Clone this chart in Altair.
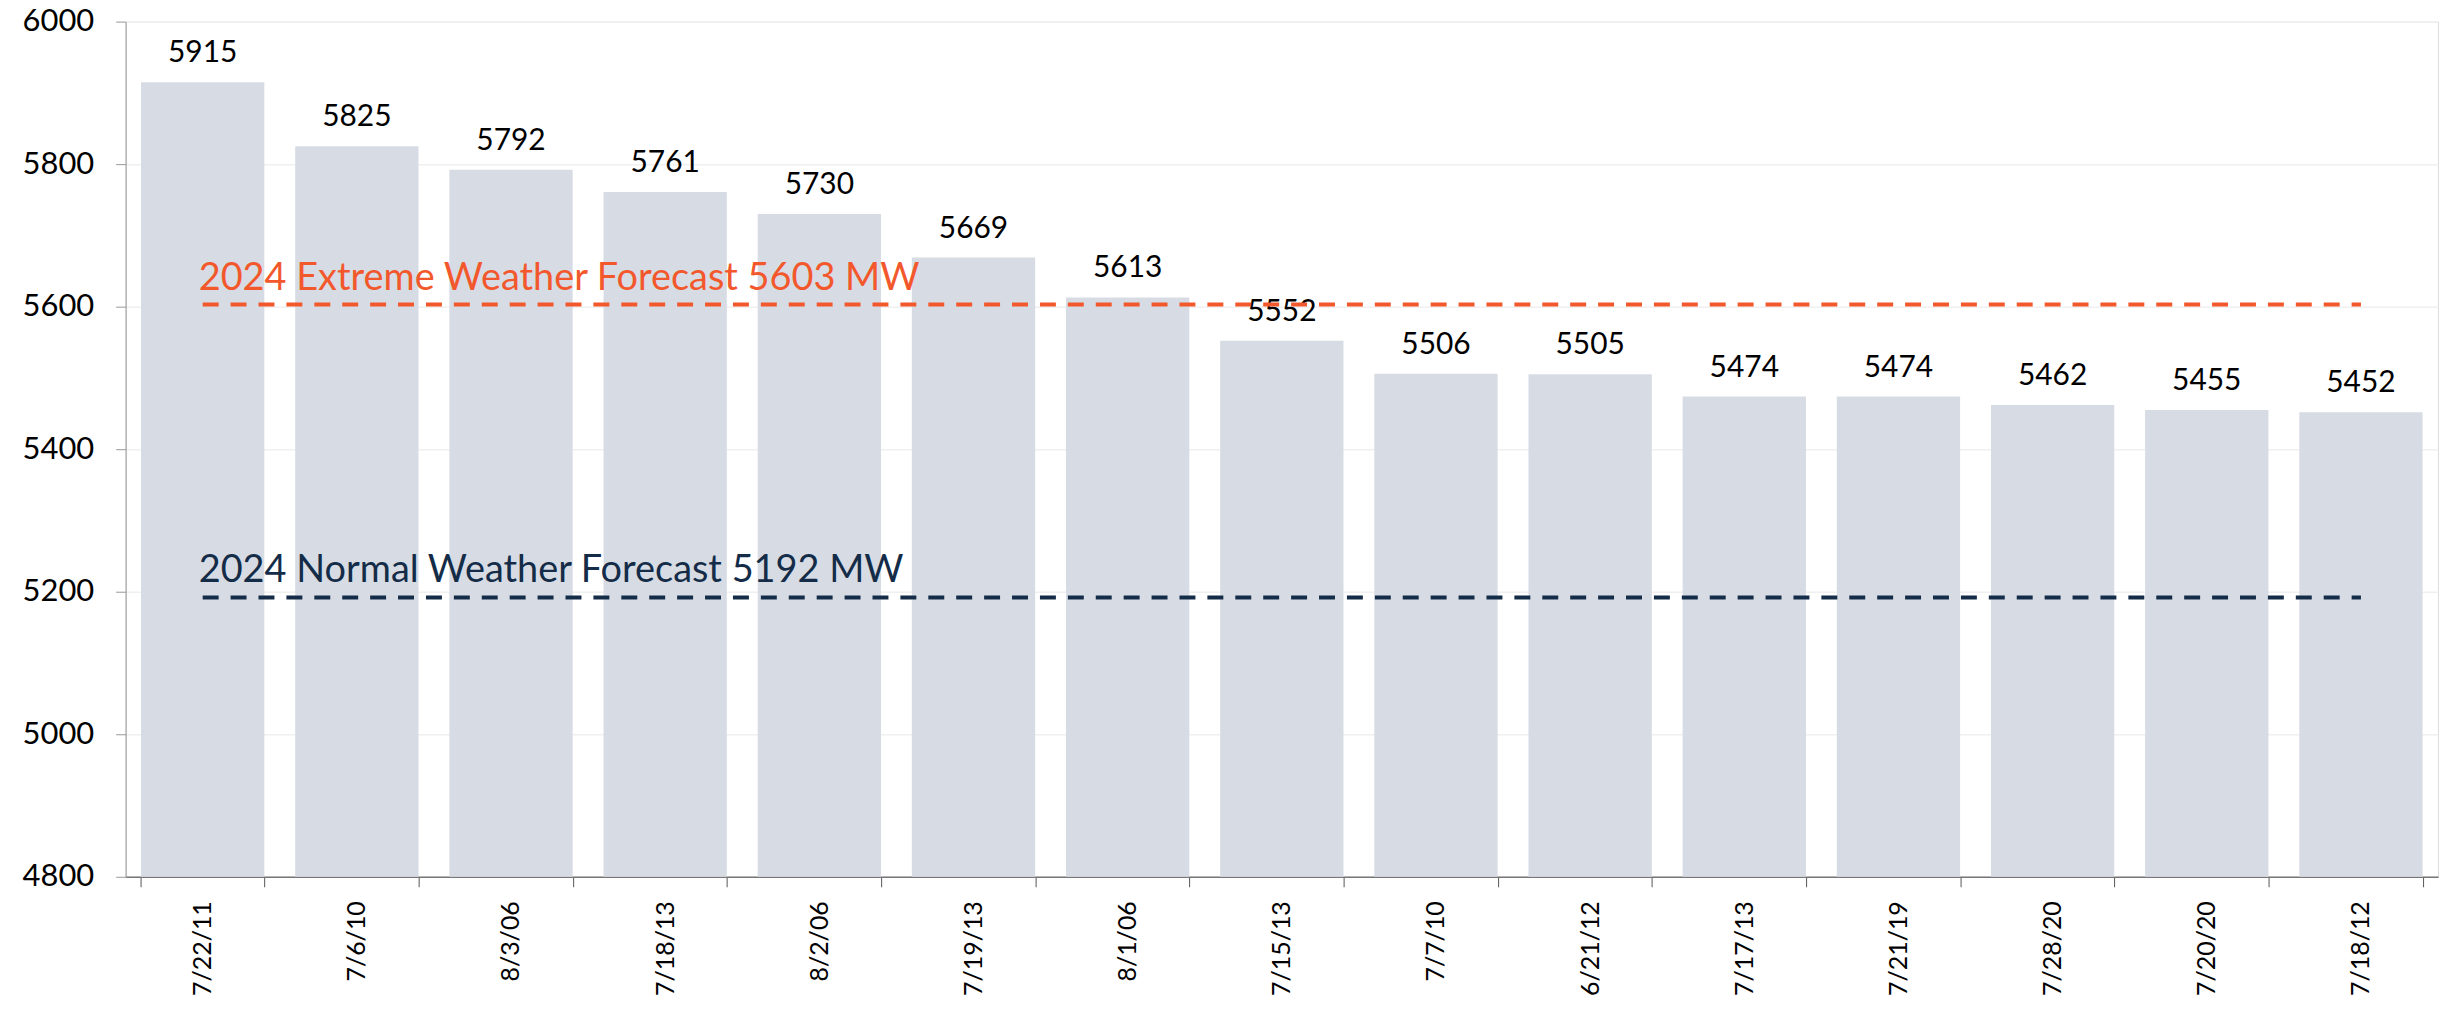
import altair as alt
import pandas as pd

dates = ["7/22/11", "7/6/10", "8/3/06", "7/18/13", "8/2/06", "7/19/13", "8/1/06",
         "7/15/13", "7/7/10", "6/21/12", "7/17/13", "7/21/19", "7/28/20", "7/20/20", "7/18/12"]
peaks = [5915, 5825, 5792, 5761, 5730, 5669, 5613, 5552, 5506, 5505, 5474, 5474, 5462, 5455, 5452]

extreme_value = 5603
normal_value = 5192
extreme_label = "2024 Extreme Weather Forecast 5603 MW"
normal_label = "2024 Normal Weather Forecast 5192 MW"
y_ticks = [4800, 5000, 5200, 5400, 5600, 5800, 6000]

FONT = "Lato"
BAR = "#d7dce4"
ORANGE = "#f2582c"
NAVY = "#142c48"

df = pd.DataFrame({"date": dates, "peak": peaks})
lines = pd.DataFrame({
    "date": dates * 2,
    "val": [extreme_value] * len(dates) + [normal_value] * len(dates),
    "kind": ["extreme"] * len(dates) + ["normal"] * len(dates),
})

xenc = alt.X("date:N", sort=None, title=None,
             scale=alt.Scale(paddingInner=0.2, paddingOuter=0.1),
             axis=alt.Axis(labelAngle=-90, labelFontSize=25, labelFont=FONT, labelColor="#000",
                           labelPadding=14, tickBand="extent", tickSize=10, tickColor="#555",
                           domainColor="#777", domainWidth=1.5, grid=False, labelBaseline="middle",
                           labelAlign="right"))
yscale = alt.Scale(domain=[4800, 6000], zero=False, nice=False)
yenc = alt.Y("peak:Q", scale=yscale, title=None,
             axis=alt.Axis(values=y_ticks, format="d", labelFontSize=31, labelFont=FONT,
                           labelColor="#000", labelPadding=22, tickSize=10, tickColor="#999",
                           domainColor="#999", gridColor="#f0f0f0", gridWidth=1.5))

bars = alt.Chart(df).mark_bar(color=BAR).encode(x=xenc, y=yenc, y2=alt.datum(4800))
labels = alt.Chart(df).mark_text(font=FONT, fontSize=30, color="#000", baseline="alphabetic",
                                  dy=-20).encode(x=alt.X("date:N", sort=None), y=alt.Y("peak:Q"),
                                                 text=alt.Text("peak:Q", format="d"))

ext_line = alt.Chart(lines[lines.kind == "extreme"]).mark_line(
    color=ORANGE, strokeWidth=4, strokeDash=[16, 12]).encode(
    x=alt.X("date:N", sort=None), y=alt.Y("val:Q"))
nor_line = alt.Chart(lines[lines.kind == "normal"]).mark_line(
    color=NAVY, strokeWidth=4, strokeDash=[16, 12]).encode(
    x=alt.X("date:N", sort=None), y=alt.Y("val:Q"))

ext_text = alt.Chart(pd.DataFrame({"date": [dates[0]], "val": [extreme_value], "t": [extreme_label]})).mark_text(
    font=FONT, fontSize=38, color=ORANGE, align="left", baseline="alphabetic", dx=-4, dy=-15).encode(
    x=alt.X("date:N", sort=None), y=alt.Y("val:Q"), text="t:N")
nor_text = alt.Chart(pd.DataFrame({"date": [dates[0]], "val": [normal_value], "t": [normal_label]})).mark_text(
    font=FONT, fontSize=38, color=NAVY, align="left", baseline="alphabetic", dx=-4, dy=-15).encode(
    x=alt.X("date:N", sort=None), y=alt.Y("val:Q"), text="t:N")

chart = alt.layer(bars, labels, ext_line, nor_line, ext_text, nor_text).properties(
    width=2320, height=858,
    autosize=alt.AutoSizeParams(type="none"),
    padding={"left": 118, "top": 12, "right": 5, "bottom": 132},
).configure_view(stroke=None).configure(background="white")

chart.save("out.html", embed_options={"renderer": "svg", "actions": False})
